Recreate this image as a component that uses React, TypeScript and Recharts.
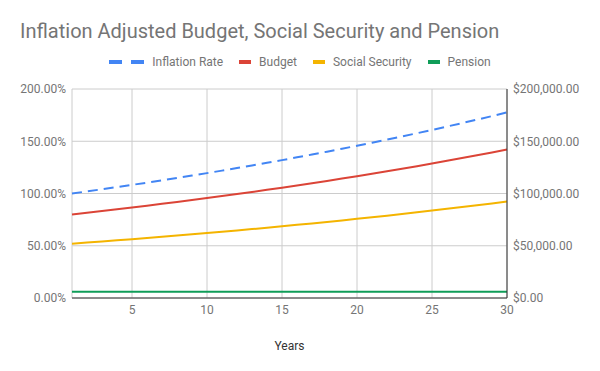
import { LineChart, Line, XAxis, YAxis, CartesianGrid, Legend } from 'recharts';

const years = [1, 2, 3, 4, 5, 6, 7, 8, 9, 10, 11, 12, 13, 14, 15, 16, 17, 18, 19, 20, 21, 22, 23, 24, 25, 26, 27, 28, 29, 30];

// percent, left axis
const inflationRate = [
  100, 102, 104.04, 106.12, 108.24, 110.41, 112.62, 114.87, 117.17, 119.51,
  121.9, 124.34, 126.82, 129.36, 131.95, 134.59, 137.28, 140.02, 142.82, 145.68,
  148.59, 151.57, 154.6, 157.69, 160.84, 164.06, 167.34, 170.69, 174.1, 177.58,
];

// dollars, right axis
const budget = [
  80000, 81600, 83232, 84896, 86592, 88328, 90096, 91896, 93736, 95608,
  97520, 99472, 101456, 103488, 105560, 107672, 109824, 112016, 114256, 116544,
  118872, 121256, 123680, 126152, 128672, 131248, 133872, 136552, 139280, 142064,
];

const socialSecurity = [
  52000, 53040, 54101, 55182, 56285, 57413, 58562, 59732, 60928, 62145,
  63388, 64657, 65946, 67267, 68614, 69987, 71386, 72810, 74266, 75754,
  77267, 78816, 80392, 81999, 83637, 85311, 87017, 88759, 90532, 92342,
];

const pension = [
  6000, 6000, 6000, 6000, 6000, 6000, 6000, 6000, 6000, 6000,
  6000, 6000, 6000, 6000, 6000, 6000, 6000, 6000, 6000, 6000,
  6000, 6000, 6000, 6000, 6000, 6000, 6000, 6000, 6000, 6000,
];

const xTicks = [5, 10, 15, 20, 25, 30];
const pctTicks = [0, 50, 100, 150, 200];
const usdTicks = [0, 50000, 100000, 150000, 200000];

const data = years.map((year, i) => ({
  year,
  inflation: inflationRate[i],
  budget: budget[i],
  socialSecurity: socialSecurity[i],
  pension: pension[i],
}));

const legendItems = [
  { name: 'Inflation Rate', color: '#4285F4', dashed: true },
  { name: 'Budget', color: '#DB4437', dashed: false },
  { name: 'Social Security', color: '#F4B400', dashed: false },
  { name: 'Pension', color: '#0F9D58', dashed: false },
];

const tickStyle = { fontSize: 12, fill: '#757575' };

const renderLegend = () => (
  <div style={{ display: 'flex', justifyContent: 'center', alignItems: 'center', height: 16, fontSize: 12, color: '#757575' }}>
    {legendItems.map((item, idx) => (
      <div key={item.name} style={{ display: 'flex', alignItems: 'center', marginLeft: idx === 0 ? 0 : 16 }}>
        {item.dashed ? (
          <>
            <span style={{ display: 'inline-block', width: 13, height: 4, background: item.color }} />
            <span style={{ display: 'inline-block', width: 13, height: 4, marginLeft: 9, background: item.color }} />
          </>
        ) : (
          <span style={{ display: 'inline-block', width: 12, height: 4, background: item.color }} />
        )}
        <span style={{ marginLeft: 8 }}>{item.name}</span>
      </div>
    ))}
  </div>
);

const App = () => {
  return (
    <div style={{ position: 'relative', width: 600, height: 371, fontFamily: 'Roboto, sans-serif' }}>
      <style>{'body{margin:0}'}</style>
      <div style={{ position: 'absolute', left: 20, top: 21, fontSize: 20, lineHeight: '20px', color: '#757575', zIndex: 1 }}>
        Inflation Adjusted Budget, Social Security and Pension
      </div>
      <LineChart width={600} height={371} data={data} margin={{ top: 89, right: 0, bottom: 0, left: 0 }} style={{ fontFamily: 'Roboto, sans-serif' }}>
        <CartesianGrid yAxisId="left" stroke="#cccccc" />
        <XAxis
          dataKey="year"
          type="number"
          domain={[1, 30]}
          ticks={xTicks}
          height={73}
          tickLine={false}
          tickSize={0}
          tickMargin={7}
          axisLine={{ stroke: '#333333' }}
          tick={tickStyle}
          label={{ value: 'Years', position: 'insideBottom', offset: 21, fontSize: 12, fill: '#333333' }}
        />
        <YAxis
          yAxisId="left"
          domain={[0, 200]}
          ticks={pctTicks}
          width={72}
          axisLine={false}
          tickLine={false}
          tickSize={0}
          tickMargin={6}
          tick={tickStyle}
          tickFormatter={(v: number) => `${v.toFixed(2)}%`}
        />
        <YAxis
          yAxisId="right"
          orientation="right"
          domain={[0, 200000]}
          ticks={usdTicks}
          width={93}
          axisLine={{ stroke: '#333333' }}
          tickLine={false}
          tickSize={0}
          tickMargin={6}
          tick={tickStyle}
          tickFormatter={(v: number) => `$${v.toLocaleString('en-US', { minimumFractionDigits: 2, maximumFractionDigits: 2 })}`}
        />
        <Legend
          verticalAlign="middle"
          align="center"
          content={renderLegend}
          wrapperStyle={{ top: 54, left: 0, width: 600 }}
        />
        <Line yAxisId="right" dataKey="pension" name="Pension" stroke="#0F9D58" strokeWidth={2} dot={false} isAnimationActive={false} />
        <Line yAxisId="right" dataKey="socialSecurity" name="Social Security" stroke="#F4B400" strokeWidth={2} dot={false} isAnimationActive={false} />
        <Line yAxisId="right" dataKey="budget" name="Budget" stroke="#DB4437" strokeWidth={2} dot={false} isAnimationActive={false} />
        <Line yAxisId="left" dataKey="inflation" name="Inflation Rate" stroke="#4285F4" strokeWidth={2} strokeDasharray="10 6" dot={false} isAnimationActive={false} />
      </LineChart>
    </div>
  );
};

export default App;
